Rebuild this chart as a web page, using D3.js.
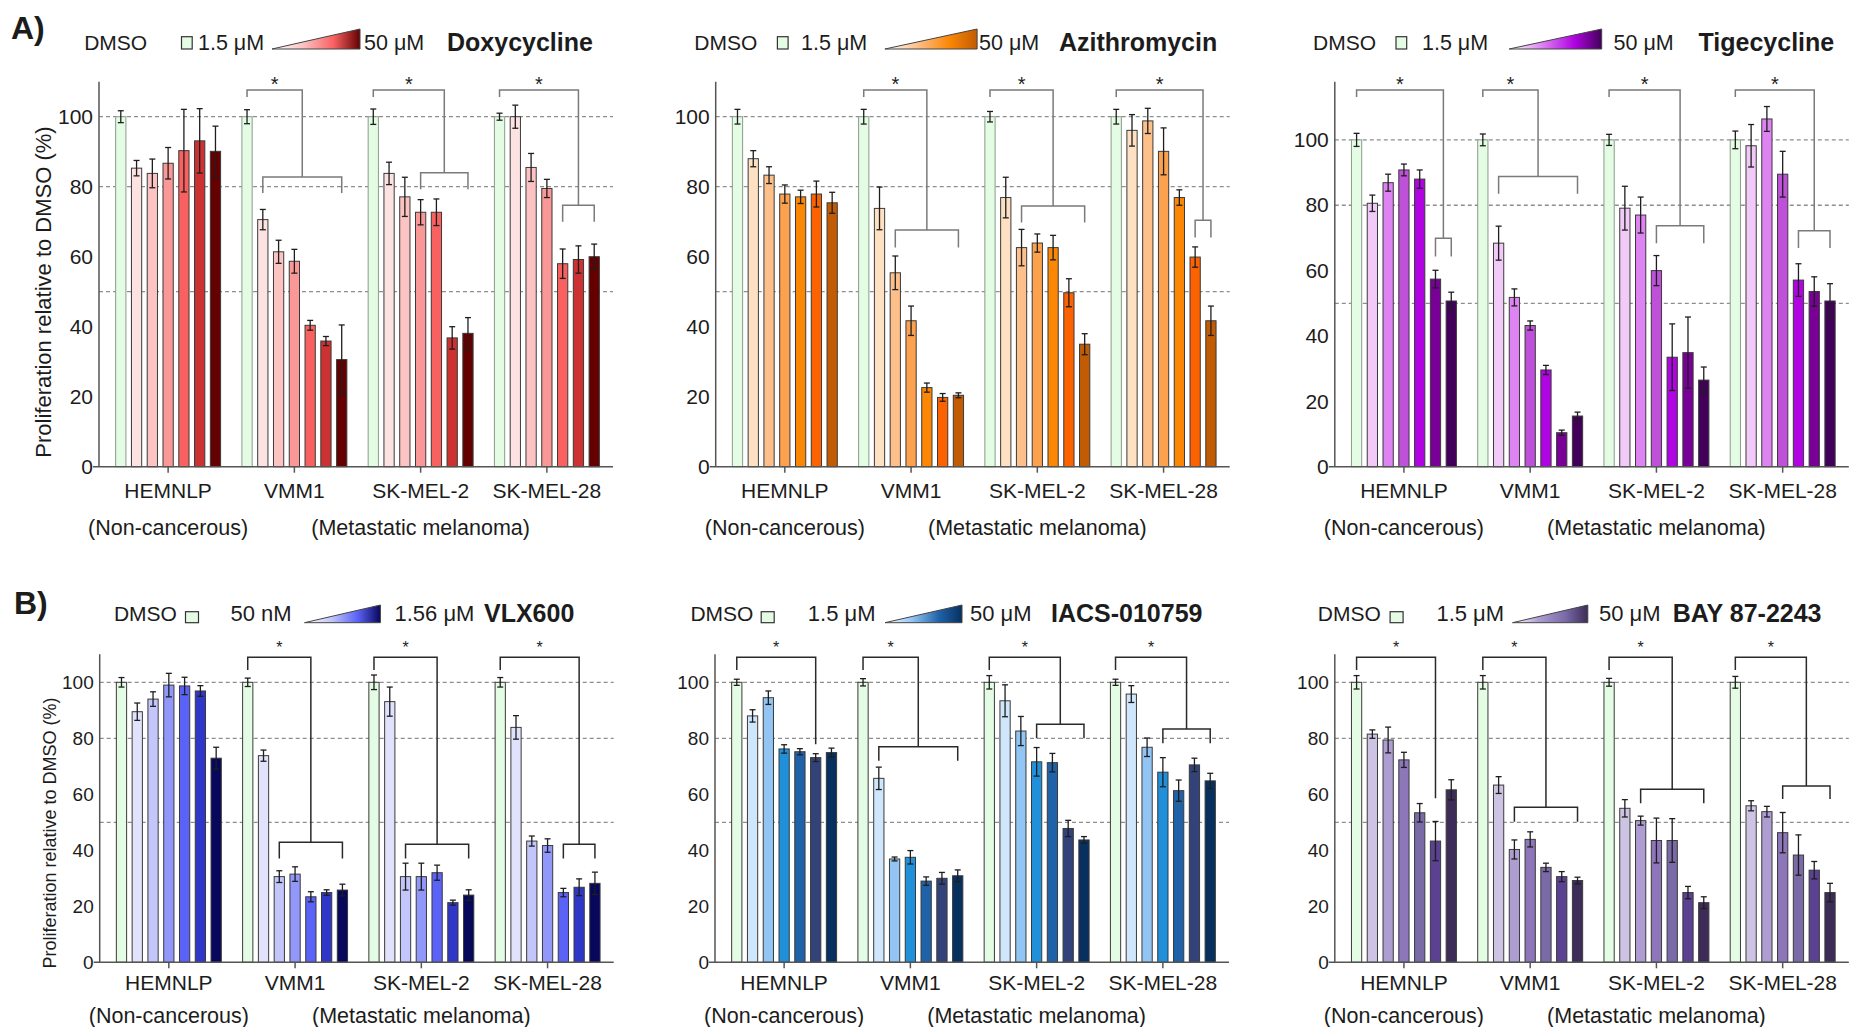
<!DOCTYPE html>
<html><head><meta charset="utf-8">
<script src="https://cdn.jsdelivr.net/npm/d3@7"></script>
<style>
body{margin:0;background:#fff}
svg{display:block}
text{font-family:"Liberation Sans",Arial,Helvetica,sans-serif;fill:#1c1c1c}
</style>
</head><body>
<svg id="c" width="1850" height="1027"></svg>
<script>
// ---------------- DATA ----------------
const groups = ["HEMNLP","VMM1","SK-MEL-2","SK-MEL-28"];
const yTicks = [0,20,40,60,80,100];
const refLines = [50,80,100];
const subLabels = ["(Non-cancerous)","(Metastatic melanoma)"];

const doxyMeans = [[100,85.3,83.8,86.7,90.3,93.1,90.1],[100,70.6,61.4,58.7,40.4,35.9,30.6],[100,83.8,77.1,72.7,72.7,36.8,38.1],[100,100,85.5,79.5,58.0,59.2,60.0]];
const doxyErr   = [[1.7,2.2,4.1,4.5,11.8,9.2,7.2],[2.0,2.9,3.3,3.4,1.4,1.3,9.9],[2.2,3.2,5.6,3.6,3.8,3.2,4.5],[1.0,3.3,4.0,2.6,4.2,3.9,3.6]];

const azitMeans = [[100,88.0,83.3,77.9,77.1,77.9,75.4],[100,73.8,55.4,41.7,22.6,19.8,20.4],[100,76.9,62.6,63.9,62.6,49.7,35.0],[100,96.1,98.8,90.1,76.9,59.9,41.7]];
const azitErr   = [[2.1,2.3,2.4,2.6,1.9,3.7,3.0],[2.1,6.1,4.8,4.2,1.3,1.1,0.7],[1.5,5.8,5.2,2.6,3.5,4.0,3.0],[2.1,4.5,3.6,6.7,2.2,2.9,4.2]];

const tigeMeans = [[100,80.6,86.9,90.8,88.0,57.4,50.7],[100,68.4,51.8,43.2,29.6,10.4,15.5],[100,79.1,77.0,60.0,33.5,34.9,26.5],[100,98.2,106.4,89.5,57.1,53.6,50.7]];
const tigeErr   = [[2.0,2.5,2.6,1.8,2.8,2.7,2.7],[1.8,5.2,2.6,1.4,1.4,0.8,1.2],[1.7,6.7,5.5,4.6,10.2,10.9,4.0],[2.7,6.5,3.8,7.0,5.0,4.5,5.3]];

const vlxMeans = [[100,89.5,94.0,99.0,98.7,96.9,72.9],[100,73.8,30.6,31.5,23.4,24.9,25.8],[100,93.1,30.6,30.6,32.0,21.3,24.0],[100,83.9,43.3,41.7,24.9,26.8,28.2]];
const vlxErr   = [[1.7,3.1,2.6,4.2,3.1,1.9,3.9],[1.5,2.0,2.1,2.6,1.8,1.0,2.1],[2.6,5.2,4.8,4.8,2.7,0.9,1.9],[1.7,4.2,1.8,2.4,1.5,3.0,4.0]];

const iacsMeans = [[100,88.0,94.5,76.2,75.2,73.1,74.9],[100,65.7,36.9,37.5,29.0,30.0,30.9],[100,93.4,82.6,71.6,71.3,47.8,43.7],[100,95.8,76.8,67.9,61.3,70.5,64.8]];
const iacsErr   = [[1.1,2.2,2.4,1.5,1.1,1.4,1.6],[1.3,4.0,0.7,2.4,1.5,2.1,2.1],[2.4,5.7,5.2,5.1,3.3,2.9,1.2],[1.1,3.0,3.3,5.2,3.8,2.4,2.7]];

const bayMeans = [[100,81.5,79.4,72.3,53.4,43.3,61.6],[100,63.3,40.3,43.9,33.9,30.6,29.2],[100,55.0,50.6,43.5,43.5,24.9,21.3],[100,55.9,53.8,46.3,38.3,32.9,24.9]];
const bayErr   = [[2.4,1.5,4.6,2.7,3.3,7.0,3.6],[2.4,3.0,3.4,2.7,1.5,1.8,1.2],[1.4,3.1,1.6,8.0,7.8,2.2,2.1],[2.1,1.8,1.9,7.2,7.2,3.1,3.3]];

// significance brackets: group, bar range [a..b], lower bracket value, leg end value
const doxyBrackets = [{g:1,a:1,b:6,low:82.8,leg:78.2},{g:2,a:3,b:6,low:84,leg:79.3},{g:3,a:4,b:6,low:74.7,leg:70}];
const azitBrackets = [{g:1,a:2,b:6,low:67.6,leg:62.6},{g:2,a:2,b:6,low:74.5,leg:69.8},{g:3,a:5,b:6,low:70.4,leg:65.5}];
const tigeBrackets = [{g:0,a:5,b:6,low:69.9,leg:64.3},{g:1,a:1,b:6,low:88.8,leg:83.5},{g:2,a:3,b:6,low:73.7,leg:68.4},{g:3,a:4,b:6,low:72.2,leg:66.9}];
const vlxBrackets  = [{g:1,a:2,b:6,low:42.9,leg:37.1},{g:2,a:2,b:6,low:42.2,leg:37.1},{g:3,a:4,b:6,low:42.2,leg:37.1}];
const iacsBrackets = [{g:0,a:5,b:5,low:77.9},{g:1,a:1,b:6,low:77.0,leg:72.0},{g:2,a:3,b:6,low:85.0,leg:80.0},{g:3,a:3,b:6,low:83.3,leg:78.2}];
const bayBrackets  = [{g:0,a:5,b:5,low:58.6},{g:1,a:2,b:6,low:55.4,leg:50.2},{g:2,a:2,b:6,low:61.8,leg:56.8},{g:3,a:3,b:6,low:63.0,leg:58.3}];

const drugNames = ["Doxycycline","Azithromycin","Tigecycline","VLX600","IACS-010759","BAY 87-2243"];
const lowDose  = ["1.5 μM","1.5 μM","1.5 μM","50 nM","1.5 μM","1.5 μM"];
const highDose = ["50 μM","50 μM","50 μM","1.56 μM","50 μM","50 μM"];

// ---------------- STYLE ----------------
const dmsoFill = "#e4fbe4";
const doxyColors = [dmsoFill,"#fde2e2","#fcc3c3","#fa9797","#f96161","#cd3232","#640000"];
const azitColors = [dmsoFill,"#fee1c2","#fdc08b","#fca14e","#fb8705","#fd6200","#c25c04"];
const tigeColors = [dmsoFill,"#f1caf8","#de84f2","#bf50d9","#b004e2","#780097","#43005a"];
const vlxColors  = [dmsoFill,"#e1e3fc","#c2c6fa","#9198fa","#5b62f7","#2f37c8","#07075b"];
const iacsColors = [dmsoFill,"#cfe6fb","#92c5f4","#1f90d9","#2062a8","#33437a","#07305f"];
const bayColors  = [dmsoFill,"#cdc3e2","#ad9dd1","#8d76b9","#7a6aa8","#5a4191","#3c2c57"];

const rows = {
  A:{y0:466.7, yTop:81.7, bracketY:90, legTop:97, starY:90.5, starSize:20, tickFont:21, labBase:498.3, subBase:535,
     ytitleCx:43.5, ytitleCy:292, ytitleSize:22, legFont:21.5,
     legBase:49.5, titleBase:51, rectY:36.7, rectH:12.3, rectW:10.7, triTop:29, triBot:49, bracketColor:"#7a7a7a", dmsoStroke:"#8a9c8a"},
  B:{y0:962.3, yTop:654.3, bracketY:657.3, legTop:670, starY:652.5, starSize:16, tickFont:19, labBase:990, subBase:1023,
     ytitleCx:50, ytitleCy:833, ytitleSize:18, legFont:22,
     legBase:620.7, titleBase:621.5, rectY:611.7, rectH:11, rectW:13, triTop:605, triBot:622.7, bracketColor:"#2a2a2a", dmsoStroke:"#3a3a3a"}
};

const panels = [
  {row:"A", X0:99,   ymax:110,   means:doxyMeans, errs:doxyErr, colors:doxyColors, brackets:doxyBrackets, drug:0,
   leg:{dmso:84.2, rect:181.5, low:198, tri0:272, tri1:360, high:364, title:447}, ylabel:true},
  {row:"A", X0:715.7, ymax:110,  means:azitMeans, errs:azitErr, colors:azitColors, brackets:azitBrackets, drug:1,
   leg:{dmso:694.3, rect:777.4, low:801.1, tri0:884.9, tri1:977.1, high:979, title:1058.9}},
  {row:"A", X0:1334.8, ymax:117.8, means:tigeMeans, errs:tigeErr, colors:tigeColors, brackets:tigeBrackets, drug:2,
   leg:{dmso:1313, rect:1396, low:1422, tri0:1509.2, tri1:1601.7, high:1613.5, title:1698.5}},
  {row:"B", X0:99.7,  ymax:110,  means:vlxMeans, errs:vlxErr, colors:vlxColors, brackets:vlxBrackets, drug:3,
   leg:{dmso:113.9, rect:185.5, low:230.5, tri0:304.5, tri1:380.4, high:394.5, title:484}, ylabel:true},
  {row:"B", X0:715,   ymax:110,  means:iacsMeans, errs:iacsErr, colors:iacsColors, brackets:iacsBrackets, drug:4,
   leg:{dmso:690.4, rect:761.2, low:807.8, tri0:885, tri1:962, high:969.9, title:1051}},
  {row:"B", X0:1334.8, ymax:110, means:bayMeans, errs:bayErr, colors:bayColors, brackets:bayBrackets, drug:5,
   leg:{dmso:1317.8, rect:1390.1, low:1436.4, tri0:1512.5, tri1:1587.8, high:1599, title:1672.8}}
];

const svg = d3.select("#c");
const defs = svg.append("defs");

svg.append("text").attr("x",11).attr("y",39).attr("font-size",32).attr("font-weight","bold").text("A)");
svg.append("text").attr("x",14).attr("y",614).attr("font-size",32).attr("font-weight","bold").text("B)");

panels.forEach((p, pi) => {
  const R = rows[p.row];
  const g = svg.append("g");
  const x0 = p.X0;
  const xEnd = Math.min(x0 + 514, 1850);
  const outer = d3.scaleBand().domain(groups).range([x0 + 6, x0 + 511]);
  const inner = d3.scaleBand().domain(d3.range(7)).range([0, outer.bandwidth()])
    .paddingInner(0.35).paddingOuter(0.675);
  const y = d3.scaleLinear().domain([0, p.ymax]).range([R.y0, R.yTop]);
  const cx = (gi, i) => outer(groups[gi]) + inner(i) + inner.bandwidth() / 2;

  // dashed reference lines
  g.selectAll(".ref").data(refLines).join("line")
    .attr("x1", x0).attr("x2", xEnd)
    .attr("y1", d => y(d)).attr("y2", d => y(d))
    .attr("stroke", "#8e8e8e").attr("stroke-width", 1.3).attr("stroke-dasharray", "4,3");

  // bars
  const flat = [];
  p.means.forEach((arr, gi) => arr.forEach((m, i) => flat.push({gi, i, m, e: p.errs[gi][i]})));
  g.selectAll(".bar").data(flat).join("rect")
    .attr("x", d => outer(groups[d.gi]) + inner(d.i))
    .attr("width", inner.bandwidth())
    .attr("y", d => y(d.m))
    .attr("height", d => y(0) - y(d.m))
    .attr("fill", d => p.colors[d.i])
    .attr("stroke", d => d.i === 0 ? R.dmsoStroke : "#3a3a3a")
    .attr("stroke-width", 1);

  // error bars
  const eb = g.selectAll(".eb").data(flat).join("g").attr("stroke", "#1e1e1e").attr("stroke-width", 1.3);
  eb.append("line").attr("x1", d => cx(d.gi, d.i)).attr("x2", d => cx(d.gi, d.i))
    .attr("y1", d => y(d.m - d.e)).attr("y2", d => y(d.m + d.e));
  eb.append("line").attr("x1", d => cx(d.gi, d.i) - 3).attr("x2", d => cx(d.gi, d.i) + 3)
    .attr("y1", d => y(d.m + d.e)).attr("y2", d => y(d.m + d.e));
  eb.append("line").attr("x1", d => cx(d.gi, d.i) - 3).attr("x2", d => cx(d.gi, d.i) + 3)
    .attr("y1", d => y(d.m - d.e)).attr("y2", d => y(d.m - d.e));

  // axes
  const ya = g.append("g").attr("transform", `translate(${x0},0)`)
    .call(d3.axisLeft(y).tickValues(yTicks).tickSize(0).tickPadding(6));
  ya.select(".domain").remove();
  ya.selectAll("text").attr("font-size", R.tickFont).attr("font-family", null).style("fill", "#1c1c1c");
  g.append("line").attr("x1", x0).attr("x2", x0).attr("y1", y(0)).attr("y2", R.yTop)
    .attr("stroke", "#555").attr("stroke-width", 1.5);

  const xa = g.append("g").attr("transform", `translate(0,${y(0)})`)
    .call(d3.axisBottom(outer).tickSize(6).tickPadding(R.labBase - y(0) - 6 - 0.71 * 21));
  xa.select(".domain").remove();
  xa.selectAll("line").attr("stroke", "#555").attr("stroke-width", 1.5);
  xa.selectAll("text").attr("font-size", 21).attr("font-family", null).style("fill", "#1c1c1c");
  g.append("line").attr("x1", x0 - 6).attr("x2", xEnd).attr("y1", y(0)).attr("y2", y(0))
    .attr("stroke", "#555").attr("stroke-width", 1.5);

  // sub labels
  const c0 = outer("HEMNLP") + outer.bandwidth() / 2;
  const c1 = (outer("VMM1") + outer("SK-MEL-28")) / 2 + outer.bandwidth() / 2;
  g.append("text").attr("x", c0).attr("y", R.subBase).attr("text-anchor", "middle").attr("font-size", 21.5).text(subLabels[0]);
  g.append("text").attr("x", c1).attr("y", R.subBase).attr("text-anchor", "middle").attr("font-size", 21.5).text(subLabels[1]);

  // y title
  if (p.ylabel) {
    g.append("text").attr("transform", `translate(${R.ytitleCx},${R.ytitleCy}) rotate(-90)`)
      .attr("text-anchor", "middle").attr("dominant-baseline", "central")
      .attr("font-size", R.ytitleSize).text("Proliferation relative to DMSO (%)");
  }

  // brackets
  p.brackets.forEach(b => {
    const xD = cx(b.g, 0);
    let xR, path;
    if (b.a === b.b) {
      xR = cx(b.g, b.a);
      path = `M${xD},${R.legTop}V${R.bracketY}H${xR}V${y(b.low)}`;
    } else {
      const xa_ = cx(b.g, b.a), xb_ = cx(b.g, b.b);
      xR = (xa_ + xb_) / 2;
      path = `M${xD},${R.legTop}V${R.bracketY}H${xR}V${y(b.low)}` +
             `M${xa_},${y(b.leg)}V${y(b.low)}H${xb_}V${y(b.leg)}`;
    }
    g.append("path").attr("d", path).attr("fill", "none")
      .attr("stroke", R.bracketColor).attr("stroke-width", 1.5);
    g.append("text").attr("x", (xD + xR) / 2).attr("y", R.starY).attr("text-anchor", "middle")
      .attr("font-size", R.starSize).text("*");
  });

  // legend
  const L = p.leg;
  g.append("text").attr("x", L.dmso).attr("y", R.legBase).attr("font-size", 21).text("DMSO");
  g.append("rect").attr("x", L.rect).attr("y", R.rectY).attr("width", R.rectW).attr("height", R.rectH)
    .attr("fill", dmsoFill).attr("stroke", "#333").attr("stroke-width", 1.2);
  g.append("text").attr("x", L.low).attr("y", R.legBase).attr("font-size", R.legFont).text(lowDose[p.drug]);
  const gid = "grad" + pi;
  const grad = defs.append("linearGradient").attr("id", gid).attr("x1", "0%").attr("x2", "100%").attr("y1", "0%").attr("y2", "0%");
  grad.append("stop").attr("offset", "0%").attr("stop-color", "#ffffff");
  grad.append("stop").attr("offset", "35%").attr("stop-color", p.colors[2]);
  grad.append("stop").attr("offset", "70%").attr("stop-color", p.colors[4]);
  grad.append("stop").attr("offset", "100%").attr("stop-color", p.colors[6]);
  g.append("path").attr("d", `M${L.tri0},${R.triBot}H${L.tri1}V${R.triTop}Z`)
    .attr("fill", `url(#${gid})`).attr("stroke", "#444").attr("stroke-width", 1);
  g.append("text").attr("x", L.high).attr("y", R.legBase).attr("font-size", R.legFont).text(highDose[p.drug]);
  g.append("text").attr("x", L.title).attr("y", R.titleBase).attr("font-size", 25).attr("font-weight", "bold").text(drugNames[p.drug]);
});
</script>
</body></html>
